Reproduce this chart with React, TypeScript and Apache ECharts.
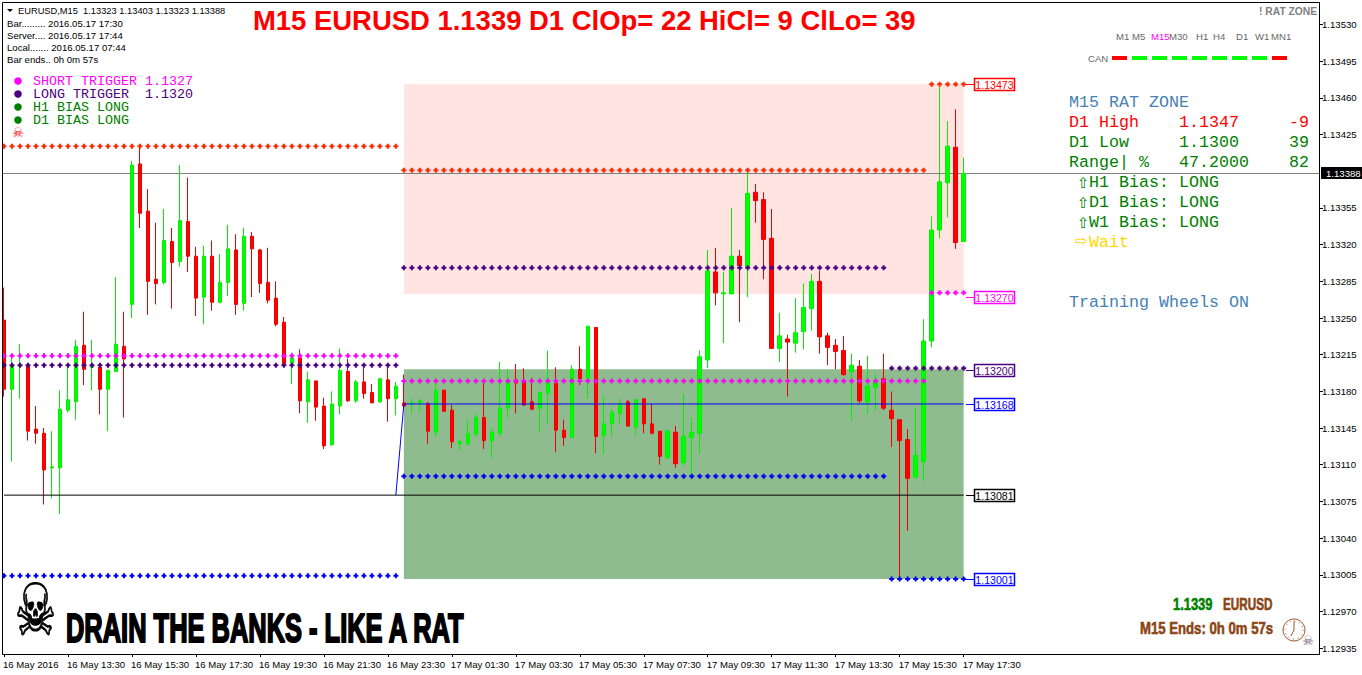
import React, { useEffect, useRef } from "react";
import * as echarts from "echarts";

// Prices are stored in points above 1.00000 (13248 => 1.13248)
const opens = [
  13248,13182,13204,13204,13144,13140,13107,13107,13162,13170,
  13224,13203,13203,13182,13199,13223,13263,13397,13352,13287,
  13284,13323,13304,13342,13309,13270,13309,13265,13284,13315,
  13264,13328,13315,13284,13269,13246,13207,13212,13170,13190,
  13166,13129,13166,13199,13171,13189,13179,13170,13191,13173,
  13169,13168,13169,13168,13141,13181,13162,13130,13130,13139,
  13155,13133,13140,13164,13191,13190,13170,13164,13178,13188,
  13143,13136,13201,13192,13241,13138,13149,13159,13170,13146,
  13173,13149,13142,13117,13141,13112,13136,13140,13210,13294,
  13273,13273,13309,13299,13370,13363,13326,13221,13230,13226,
  13237,13259,13285,13233,13224,13219,13199,13204,13170,13184,
  13192,13162,13153,13134,13098,13113,13228,13334,13379,13413,13323,
];
const closes = [
  13182,13205,13205,13142,13140,13105,13108,13163,13172,13223,
  13201,13204,13182,13200,13225,13211,13396,13350,13285,13283,
  13324,13303,13343,13309,13269,13309,13265,13284,13316,13263,
  13328,13316,13283,13267,13244,13206,13212,13171,13191,13165,
  13128,13168,13200,13171,13189,13178,13169,13192,13173,13185,
  13166,13169,13171,13142,13181,13161,13132,13132,13140,13155,
  13133,13141,13164,13190,13188,13167,13163,13179,13189,13143,
  13136,13201,13192,13242,13137,13149,13160,13168,13147,13172,
  13149,13140,13118,13142,13111,13137,13141,13213,13295,13274,
  13274,13309,13300,13369,13362,13325,13221,13233,13227,13236,
  13260,13285,13232,13222,13218,13196,13205,13171,13185,13190,
  13164,13154,13133,13097,13119,13228,13334,13380,13414,13322,13388,
];
const lows = [
  13175,13113,13173,13133,13130,13072,13078,13063,13160,13153,
  13186,13181,13158,13142,13199,13155,13250,13336,13253,13263,
  13282,13259,13299,13294,13252,13244,13257,13264,13271,13253,
  13257,13270,13274,13264,13242,13204,13187,13159,13150,13152,
  13125,13128,13158,13170,13169,13173,13169,13169,13151,13157,
  13165,13159,13161,13130,13137,13161,13126,13124,13128,13137,
  13125,13117,13137,13154,13159,13166,13162,13141,13149,13122,
  13128,13136,13186,13173,13121,13120,13137,13149,13146,13138,
  13140,13139,13110,13115,13107,13109,13100,13120,13202,13262,
  13226,13273,13246,13270,13341,13287,13221,13208,13175,13217,
  13220,13238,13216,13205,13201,13195,13152,13169,13158,13162,
  13162,13127,13000,13047,13097,13095,13222,13326,13346,13316,13323,
];
const highs = [
  13279,13212,13225,13204,13166,13145,13142,13181,13204,13229,
  13256,13229,13204,13201,13289,13256,13400,13413,13373,13341,
  13354,13336,13396,13384,13318,13319,13324,13311,13339,13330,
  13336,13332,13316,13317,13285,13251,13217,13220,13199,13190,
  13174,13180,13221,13211,13191,13204,13187,13193,13204,13189,
  13196,13173,13173,13170,13191,13182,13167,13134,13152,13159,
  13191,13144,13208,13201,13206,13202,13193,13180,13219,13203,
  13153,13205,13223,13243,13241,13175,13163,13173,13172,13173,
  13173,13168,13142,13144,13147,13178,13155,13219,13315,13317,
  13294,13355,13315,13390,13378,13370,13354,13255,13234,13269,
  13283,13292,13295,13236,13230,13233,13216,13210,13214,13196,
  13216,13180,13153,13144,13164,13249,13347,13473,13438,13449,13403,
];

const xTickLabels = [
  "16 May 2016","16 May 13:30","16 May 15:30","16 May 17:30","16 May 19:30","16 May 21:30","16 May 23:30",
  "17 May 01:30","17 May 03:30","17 May 05:30","17 May 07:30","17 May 09:30","17 May 11:30","17 May 13:30",
  "17 May 15:30","17 May 17:30",
];
const yTicks = [
  1.12935,1.1297,1.13005,1.1304,1.13075,1.1311,1.13145,1.1318,1.13215,1.1325,1.13285,1.1332,1.13355,
  1.13425,1.1346,1.13495,1.1353,
];
const levelDots = [
  { price: 1.13414, from: 0, to: 49, color: "#ff2a00" },
  { price: 1.13214, from: 0, to: 49, color: "#ff00ff" },
  { price: 1.13205, from: 0, to: 49, color: "#4b0082" },
  { price: 1.13004, from: 0, to: 49, color: "#0000ff" },
  { price: 1.13391, from: 50, to: 115, color: "#ff2a00" },
  { price: 1.13298, from: 50, to: 110, color: "#4b0082" },
  { price: 1.1319, from: 50, to: 115, color: "#ff00ff" },
  { price: 1.13099, from: 50, to: 110, color: "#0000ff" },
  { price: 1.13473, from: 116, to: 120, color: "#ff2a00" },
  { price: 1.13274, from: 116, to: 120, color: "#ff00ff" },
  { price: 1.13202, from: 111, to: 120, color: "#4b0082" },
  { price: 1.13001, from: 111, to: 120, color: "#0000ff" },
];
const tagPrices = [1.13473, 1.1327, 1.132, 1.13168, 1.13081, 1.13001];
const tagColors = ["#ff0000", "#ff00ff", "#4b0082", "#0000ff", "#000000", "#0000ff"];
const currentPrice = 1.13388;
const dayOpenLine = [[49, 1.13081], [50, 1.13168], [120, 1.13168]];
const blackLine = [[0, 1.13081], [120, 1.13081]];
const pinkZone = [50, 120, 1.13473, 1.13273];
const greenZone = [50, 120, 1.13201, 1.13001];

const timeframes = ["M1", "M5", "M15", "M30", "H1", "H4", "D1", "W1", "MN1"];
const timeframeX = [1116, 1132, 1151, 1169, 1196, 1213, 1236, 1255, 1271];
const canColors = ["#ff0000","#00ff00","#00ff00","#00ff00","#00ff00","#00ff00","#00ff00","#00ff00","#ff0000"];

const SANS = '"Liberation Sans", Arial, sans-serif';
const MONO = '"Liberation Mono", monospace';
const DEJA = '"DejaVu Sans", sans-serif';
const LABEL = `9.6px ${SANS}`;
const price = (p: number) => (100000 + p) / 100000;
const N = 165;

function txt(text: string, x: number, y: number, fill: string, font: string, extra: any = {}) {
  return {
    type: "text", z: 50, silent: true, ...extra,
    style: { text, x, y, fill, font, align: extra.align || "left", verticalAlign: "middle", ...(extra.style || {}) },
  };
}
function scaled(text: string, x: number, y: number, fill: string, font: string, scaleX: number, strokeW = 0.6) {
  return {
    type: "text", z: 50, silent: true, x, y, scaleX,
    style: { text, x: 0, y: 0, fill, font, align: "left", verticalAlign: "middle", stroke: fill, lineWidth: strokeW },
  };
}

function buildOption() {
  const categories = Array.from({ length: N }, (_, i) => (i % 8 === 0 && xTickLabels[i / 8]) || "");
  const candleData = opens.map((o, i) => [price(o), price(closes[i]), price(lows[i]), price(highs[i])]);
  const showTick = (i: number) => i % 8 === 0 && i <= 120;

  const dotColors = ["#ff2a00", "#ff00ff", "#4b0082", "#0000ff"];
  const dotSeries = dotColors.map((color) => {
    const data: number[][] = [];
    levelDots.filter((l) => l.color === color).forEach((l) => {
      for (let i = l.from; i <= l.to; i++) data.push([i, l.price]);
    });
    return {
      type: "scatter", z: 6, data, silent: true,
      symbol: "path://M1.5 0h2v1.5h1.5v2h-1.5v1.5h-2v-1.5h-1.5v-2h1.5z", symbolSize: 5,
      itemStyle: { color, opacity: 1 },
    };
  });

  const g: any[] = [];
  g.push({ type: "rect", z: 39, silent: true, shape: { x: 0, y: 0, width: 2.5, height: 654 }, style: { fill: "#fff" } });
  g.push({ type: "rect", z: 40, silent: true, shape: { x: 2.5, y: 2.5, width: 1317, height: 652 }, style: { fill: "none", stroke: "#000", lineWidth: 1 } });
  g.push(txt("M15 EURUSD 1.1339 D1 ClOp= 22 HiCl= 9 ClLo= 39", 253, 20, "#ff0000", `bold 27.45px ${SANS}`));
  g.push({ type: "polygon", z: 50, silent: true, shape: { points: [[7, 9], [13, 9], [10, 12]] }, style: { fill: "#000" } });
  g.push(txt("EURUSD,M15  1.13323 1.13403 1.13323 1.13388", 18, 11, "#000", `9.3px ${SANS}`));
  g.push(txt("Bar......... 2016.05.17 17:30", 7, 23.5, "#000", LABEL));
  g.push(txt("Server.... 2016.05.17 17:44", 7, 35.5, "#000", LABEL));
  g.push(txt("Local....... 2016.05.17 07:44", 7, 47.5, "#000", LABEL));
  g.push(txt("Bar ends.. 0h 0m 57s", 7, 59.5, "#000", LABEL));

  const legend: [string, string, number][] = [
    ["SHORT TRIGGER 1.1327", "#ff00ff", 81],
    ["LONG TRIGGER  1.1320", "#4b0082", 94],
    ["H1 BIAS LONG", "#008000", 107],
    ["D1 BIAS LONG", "#008000", 120],
  ];
  legend.forEach(([t, c, y]) => {
    g.push({ type: "circle", z: 50, silent: true, shape: { cx: 18, cy: y, r: 3.8 }, style: { fill: c } });
    g.push(txt(t, 33, y, c, `13.33px ${MONO}`, { style: { whiteSpace: "pre" } }));
  });
  g.push(txt("☠", 18, 132, "#ff0000", `13px ${DEJA}`, { align: "center" }));

  // timeframe strip
  timeframes.forEach((t, i) => {
    g.push(txt(t, timeframeX[i], 36.5, t === "M15" ? "#ff00ff" : "#666666", LABEL));
    g.push({ type: "rect", z: 50, silent: true, shape: { x: 1112 + 20 * i, y: 56, width: 15, height: 4 }, style: { fill: canColors[i] } });
  });
  g.push(txt("CAN", 1088, 58, "#666666", LABEL));
  g.push(txt("! RAT ZONE", 1259, 11, "#808080", `bold 10.3px ${SANS}`));

  const PF = `16.67px ${MONO}`;
  g.push(txt("M15 RAT ZONE", 1069, 102.5, "#4682b4", PF));
  const rows: [string, string, string, string, number][] = [
    ["D1 High", "1.1347", "-9", "#ff0000", 122.5],
    ["D1 Low", "1.1300", "39", "#008000", 142.5],
    ["Range| %", "47.2000", "82", "#008000", 162.5],
  ];
  rows.forEach(([a, b, c, col, y]) => {
    g.push(txt(a, 1069, y, col, PF));
    g.push(txt(b, 1179, y, col, PF));
    g.push(txt(c, 1289, y, col, PF));
  });
  const bias: [string, number][] = [["H1 Bias: LONG", 182.5], ["D1 Bias: LONG", 202.5], ["W1 Bias: LONG", 222.5]];
  bias.forEach(([t, y]) => {
    g.push(txt("⇧", 1077, y, "#008000", `15px ${DEJA}`));
    g.push(txt(t, 1089, y, "#008000", PF));
  });
  g.push(txt("⇨", 1075, 241, "#ffd700", `15px ${DEJA}`));
  g.push(txt("Wait", 1089, 242.5, "#ffd700", PF));
  g.push(txt("Training Wheels ON", 1069, 302.5, "#4682b4", PF));

  // bottom-left banner
  g.push({
    type: "text", z: 50, silent: true, x: 35.5, y: 610, scaleX: 0.78, scaleY: 1.2,
    style: { text: "☠", x: 0, y: 0, fill: "#000", stroke: "#000", lineWidth: 0.8, font: `60px ${DEJA}`, align: "center", verticalAlign: "middle" },
  });
  g.push(scaled("DRAIN THE BANKS - LIKE A RAT", 66, 628.5, "#000", `bold 40px ${SANS}`, 0.636, 2));

  // bottom-right readouts
  g.push(scaled("1.1339", 1173, 604, "#008000", `bold 17px ${SANS}`, 0.76, 0.6));
  g.push(scaled("EURUSD", 1223, 604, "#8b4513", `bold 17px ${SANS}`, 0.69, 0.6));
  g.push(scaled("M15 Ends: 0h 0m 57s", 1140, 628, "#8b4513", `bold 17px ${SANS}`, 0.775, 0.6));
  g.push({ type: "circle", z: 50, silent: true, shape: { cx: 1294, cy: 630, r: 11 }, style: { fill: "#fff", stroke: "#a0522d", lineWidth: 1 } });
  g.push({ type: "circle", z: 51, silent: true, shape: { cx: 1294, cy: 630, r: 9 }, style: { fill: "none", stroke: "#a0522d", lineWidth: 1, lineDash: [1, 3.7] } });
  g.push({ type: "line", z: 51, silent: true, shape: { x1: 1294, y1: 630, x2: 1294, y2: 621 }, style: { stroke: "#a0522d", lineWidth: 1 } });
  g.push({ type: "line", z: 51, silent: true, shape: { x1: 1294, y1: 630, x2: 1291, y2: 636 }, style: { stroke: "#a0522d", lineWidth: 1 } });
  g.push(txt("☠", 1308, 640, "#666666", `13px ${DEJA}`, { align: "center" }));

  return {
    animation: false,
    backgroundColor: "#ffffff",
    grid: { left: 3.5, top: 3, width: 1312, height: 651, containLabel: false, show: false },
    xAxis: {
      type: "category", data: categories, boundaryGap: false,
      axisLine: { show: true, lineStyle: { color: "#000", width: 1 } },
      axisTick: { show: true, length: 3, interval: (i: number) => showTick(i), lineStyle: { color: "#000" } },
      axisLabel: { show: true, interval: (i: number) => showTick(i), align: "left", margin: 5, padding: [0, 0, 0, -1], color: "#000", fontFamily: SANS, fontSize: 9.6, hideOverlap: false },
      splitLine: { show: false },
    },
    yAxis: {
      type: "value", position: "right", offset: 3.5, min: 1.129294, max: 1.135506, scale: true,
      axisLine: { show: true, lineStyle: { color: "#000", width: 1 } },
      axisTick: { show: true, length: 4, customValues: yTicks, lineStyle: { color: "#000" } },
      axisLabel: { show: true, customValues: yTicks, margin: 3, color: "#000", fontFamily: SANS, fontSize: 9.6, formatter: (v: number) => v.toFixed(5) },
      splitLine: { show: false },
    },
    series: [
      {
        type: "line", z: 1, data: [], silent: true,
        markArea: {
          silent: true,
          data: [
            [
              { xAxis: pinkZone[0], yAxis: pinkZone[2], itemStyle: { color: "#ffe4e1", opacity: 1 } },
              { xAxis: pinkZone[1], yAxis: pinkZone[3] },
            ],
            [
              { xAxis: greenZone[0], yAxis: greenZone[2], itemStyle: { color: "#8fbc8f", opacity: 1 } },
              { xAxis: greenZone[1], yAxis: greenZone[3] },
            ],
          ],
        },
      },
      {
        type: "custom", z: 2, silent: true, data: [[0, currentPrice]], clip: false,
        renderItem: (_: any, api: any) => {
          const p = api.coord([0, api.value(1)]);
          const y = Math.round(p[1]) + 0.5;
          return { type: "line", shape: { x1: 3, y1: y, x2: 1319, y2: y }, style: { stroke: "#808080", lineWidth: 1 } };
        },
      },
      {
        type: "candlestick", z: 3, data: candleData, barWidth: 4, silent: true, clip: false,
        itemStyle: { color: "#00ff00", color0: "#ff0000", borderColor: "#00f000", borderColor0: "#f00000", borderWidth: 1 },
      },
      { type: "line", z: 4, data: blackLine, symbol: "none", silent: true, lineStyle: { color: "#000", width: 1 } },
      { type: "line", z: 4, data: dayOpenLine, symbol: "none", silent: true, lineStyle: { color: "#0000ff", width: 1 } },
      ...dotSeries,
      {
        type: "custom", z: 8, silent: true, clip: false, data: tagPrices.map((v) => [120, v]),
        renderItem: (params: any, api: any) => {
          const p = api.coord([api.value(0), api.value(1)]);
          const c = tagColors[params.dataIndex];
          const x = Math.round(p[0]);
          const y = Math.round(p[1]) + 0.5;
          return {
            type: "group",
            children: [
              { type: "line", shape: { x1: x + 2, y1: y, x2: x + 11, y2: y }, style: { stroke: c, lineWidth: 1 } },
              { type: "rect", shape: { x: x + 10.5, y: y - 6, width: 40, height: 12 }, style: { fill: "#fff", stroke: c, lineWidth: 1.5 } },
              { type: "text", style: { text: api.value(1).toFixed(5), x: x + 30.5, y: y + 0.5, fill: c, font: `10.6px ${SANS}`, align: "center", verticalAlign: "middle" } },
            ],
          };
        },
      },
      {
        type: "custom", z: 9, silent: true, clip: false, data: [[120, currentPrice]],
        renderItem: (_: any, api: any) => {
          const p = api.coord([api.value(0), api.value(1)]);
          const y = Math.round(p[1]);
          return {
            type: "group",
            children: [
              { type: "rect", shape: { x: 1321, y: y - 6, width: 41, height: 12 }, style: { fill: "#000" } },
              { type: "text", style: { text: api.value(1).toFixed(5), x: 1326, y: y + 0.5, fill: "#fff", font: `9.6px ${SANS}`, align: "left", verticalAlign: "middle" } },
            ],
          };
        },
      },
    ],
    graphic: { elements: g },
  };
}

export default function App() {
  const ref = useRef<HTMLDivElement>(null);
  useEffect(() => {
    const chart = echarts.init(ref.current!, undefined, { renderer: "svg" });
    chart.setOption(buildOption() as any);
    return () => chart.dispose();
  }, []);
  return <div ref={ref} style={{ position: "fixed", left: 0, top: 0, width: 1362, height: 675, background: "#fff" }} />;
}
